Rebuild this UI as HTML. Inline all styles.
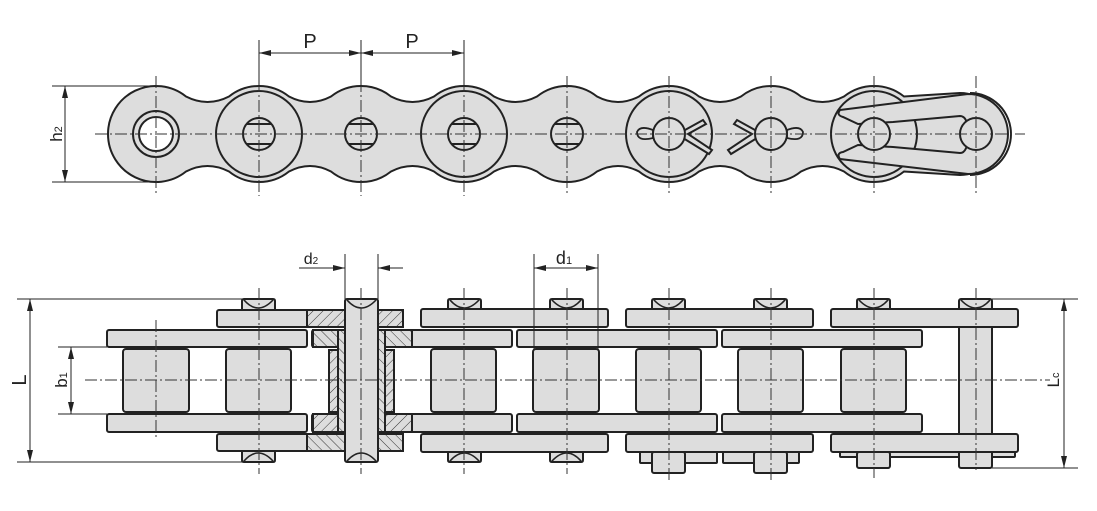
<!DOCTYPE html>
<html><head><meta charset="utf-8"><style>
html,body{margin:0;padding:0;background:#fff;}
svg{display:block;}
text{font-family:"Liberation Sans",sans-serif;fill:#222;}
</style></head><body>
<svg width="1097" height="511" viewBox="0 0 1097 511" xmlns="http://www.w3.org/2000/svg">
<defs>
<pattern id="h1" patternUnits="userSpaceOnUse" width="7" height="7" patternTransform="rotate(45)"><rect width="7" height="7" fill="#ddd"/><line x1="0" y1="0" x2="0" y2="7" stroke="#333" stroke-width="1"/></pattern>
<pattern id="h2" patternUnits="userSpaceOnUse" width="7" height="7" patternTransform="rotate(-45)"><rect width="7" height="7" fill="#ddd"/><line x1="0" y1="0" x2="0" y2="7" stroke="#333" stroke-width="1"/></pattern>
<marker id="ar" markerWidth="12" markerHeight="6" refX="12" refY="3" orient="auto" markerUnits="userSpaceOnUse"><path d="M0,0 L12,3 L0,6 Z" fill="#222"/></marker>
</defs>
<g stroke="#222" stroke-width="2" fill="#ddd">
<!-- TOP VIEW -->
<path d="M108,134 A48,48 0 0 1 186,96.5 Q207.5,107.5 229,96.5 A48,48 0 0 1 289,96.5 Q310,107.5 331,96.5 A48,48 0 0 1 391,96.5 Q412.5,107.5 434,96.5 A48,48 0 0 1 494,96.5 Q515.5,107.5 537,96.5 A48,48 0 0 1 597,96.5 Q618,107.5 639,96.5 A48,48 0 0 1 699,96.5 Q720,107.5 741,96.5 A48,48 0 0 1 801,96.5 Q822.5,107.5 844,96.5 A48,48 0 0 1 904,96.5 L960,93 A41,41 0 0 1 960,175 L904,171.5 A48,48 0 0 1 844,171.5 Q822.5,160.5 801,171.5 A48,48 0 0 1 741,171.5 Q720,160.5 699,171.5 A48,48 0 0 1 639,171.5 Q618,160.5 597,171.5 A48,48 0 0 1 537,171.5 Q515.5,160.5 494,171.5 A48,48 0 0 1 434,171.5 Q412.5,160.5 391,171.5 A48,48 0 0 1 331,171.5 Q310,160.5 289,171.5 A48,48 0 0 1 229,171.5 Q207.5,160.5 186,171.5 A48,48 0 0 1 108,134 Z"/>
<path d="M970,93 A41,41 0 0 1 970,175" fill="none"/>
<g fill="none">
<circle cx="259" cy="134" r="43"/><circle cx="464" cy="134" r="43"/><circle cx="669" cy="134" r="43"/><circle cx="874" cy="134" r="43"/>
</g>
<circle cx="156" cy="134" r="23"/><circle cx="156" cy="134" r="17" fill="#fff"/>
<circle cx="259" cy="134" r="16"/><circle cx="361" cy="134" r="16"/><circle cx="464" cy="134" r="16"/><circle cx="567" cy="134" r="16"/>
<g fill="none"><line x1="246" y1="124" x2="272" y2="124"/><line x1="246" y1="144" x2="272" y2="144"/>
<line x1="348" y1="124" x2="374" y2="124"/><line x1="348" y1="144" x2="374" y2="144"/>
<line x1="451" y1="124" x2="477" y2="124"/><line x1="451" y1="144" x2="477" y2="144"/>
<line x1="554" y1="124" x2="580" y2="124"/><line x1="554" y1="144" x2="580" y2="144"/></g>
<!-- cotters -->
<path d="M653,130 Q640,125 637,132 Q637,142 653,138 Z" stroke-width="1.8"/>
<path d="M685,130 L703,120 L706,124 L688,134 L712,150 L709,154 L683,138" fill="#ddd"/>
<circle cx="669" cy="134" r="16"/>
<path d="M787,130 Q800,125 803,132 Q803,142 787,138 Z" stroke-width="1.8"/>
<path d="M755,130 L737,120 L734,124 L752,134 L728,150 L731,154 L757,138" fill="#ddd"/>
<circle cx="771" cy="134" r="16"/>
<!-- spring clip -->
<path d="M840,110 L968,94 A40,40 0 0 1 968,174 L840,159 Q836,153 843,152 L858,145 L893,147 L960,153 Q968,153 968,134 Q968,116 960,116 L893,122 L858,124 L843,117 Q836,115 840,110 Z"/>
<circle cx="874" cy="134" r="16"/><circle cx="976" cy="134" r="16"/>
</g>
<!-- top center lines -->
<g stroke="#333" stroke-width="1" stroke-dasharray="12,3,2,3" fill="none">
<line x1="95" y1="134" x2="1025" y2="134"/>
<line x1="156" y1="76" x2="156" y2="196"/>
<line x1="259" y1="40" x2="259" y2="196"/><line x1="361" y1="40" x2="361" y2="196"/><line x1="464" y1="40" x2="464" y2="196"/>
<line x1="567" y1="76" x2="567" y2="196"/><line x1="669" y1="76" x2="669" y2="196"/><line x1="771" y1="76" x2="771" y2="196"/><line x1="874" y1="76" x2="874" y2="196"/><line x1="976" y1="76" x2="976" y2="196"/>
</g>
<!-- P dims -->
<g stroke="#222" stroke-width="1">
<line x1="259" y1="40" x2="259" y2="86"/><line x1="361" y1="40" x2="361" y2="86"/><line x1="464" y1="40" x2="464" y2="86"/>
<line x1="310" y1="53" x2="259" y2="53" marker-end="url(#ar)"/><line x1="310" y1="53" x2="361" y2="53" marker-end="url(#ar)"/>
<line x1="412" y1="53" x2="361" y2="53" marker-end="url(#ar)"/><line x1="412" y1="53" x2="464" y2="53" marker-end="url(#ar)"/>
<line x1="52" y1="86" x2="156" y2="86"/><line x1="52" y1="182" x2="156" y2="182"/>
<line x1="65" y1="134" x2="65" y2="86" marker-end="url(#ar)"/><line x1="65" y1="134" x2="65" y2="182" marker-end="url(#ar)"/>
</g>
<text x="310" y="48" font-size="20" text-anchor="middle">P</text>
<text x="412" y="48" font-size="20" text-anchor="middle">P</text>
<text transform="translate(62,134) rotate(-90)" font-size="17" text-anchor="middle">h<tspan font-size="11">2</tspan></text>

<!-- BOTTOM VIEW -->
<g stroke="#222" stroke-width="2" fill="#ddd">
<!-- pin heads top -->
<path d="M242,310 L242,301 Q242,299 244,299 L273,299 Q275,299 275,301 L275,310 Z"/>
<path d="M448,310 L448,301 Q448,299 450,299 L479,299 Q481,299 481,301 L481,310 Z"/>
<path d="M550,310 L550,301 Q550,299 552,299 L581,299 Q583,299 583,301 L583,310 Z"/>
<path d="M652,310 L652,301 Q652,299 654,299 L683,299 Q685,299 685,301 L685,310 Z"/>
<path d="M754,310 L754,301 Q754,299 756,299 L785,299 Q787,299 787,301 L787,310 Z"/>
<path d="M857,310 L857,301 Q857,299 859,299 L888,299 Q890,299 890,301 L890,310 Z"/>
<!-- pin heads bottom -->
<path d="M242,451 L242,460 Q242,462 244,462 L273,462 Q275,462 275,460 L275,451 Z"/>
<path d="M448,451 L448,460 Q448,462 450,462 L479,462 Q481,462 481,460 L481,451 Z"/>
<path d="M550,451 L550,460 Q550,462 552,462 L581,462 Q583,462 583,460 L583,451 Z"/>
<!-- bottom right extras -->
<rect x="640" y="452" width="77" height="11" rx="1"/><rect x="652" y="452" width="33" height="21" rx="2"/>
<rect x="723" y="452" width="76" height="11" rx="1"/><rect x="754" y="452" width="33" height="21" rx="2"/>
<rect x="840" y="450" width="175" height="7" rx="1"/>
<rect x="857" y="452" width="33" height="16" rx="2"/>
<!-- last pin -->
<rect x="959" y="299" width="33" height="169" rx="2"/>
<!-- outer plates -->
<rect x="217" y="310" width="186" height="17" rx="2"/><rect x="421" y="309" width="187" height="18" rx="2"/><rect x="626" y="309" width="187" height="18" rx="2"/><rect x="831" y="309" width="187" height="18" rx="2"/>
<rect x="217" y="434" width="186" height="17" rx="2"/><rect x="421" y="434" width="187" height="18" rx="2"/><rect x="626" y="434" width="187" height="18" rx="2"/><rect x="831" y="434" width="187" height="18" rx="2"/>
<!-- inner plates -->
<rect x="107" y="330" width="200" height="17" rx="2"/><rect x="312" y="330" width="200" height="17" rx="2"/><rect x="517" y="330" width="200" height="17" rx="2"/><rect x="722" y="330" width="200" height="17" rx="2"/>
<rect x="107" y="414" width="200" height="18" rx="2"/><rect x="312" y="414" width="200" height="18" rx="2"/><rect x="517" y="414" width="200" height="18" rx="2"/><rect x="722" y="414" width="200" height="18" rx="2"/>
<!-- rollers -->
<rect x="123" y="349" width="66" height="63" rx="3"/><rect x="226" y="349" width="65" height="63" rx="3"/>
<rect x="431" y="349" width="65" height="63" rx="3"/><rect x="533" y="349" width="66" height="63" rx="3"/>
<rect x="636" y="349" width="65" height="63" rx="3"/><rect x="738" y="349" width="65" height="63" rx="3"/><rect x="841" y="349" width="65" height="63" rx="3"/>
<!-- hatched section -->
<rect x="307" y="310" width="38" height="17" fill="url(#h1)"/><rect x="378" y="310" width="25" height="17" fill="url(#h1)"/>
<rect x="307" y="434" width="38" height="17" fill="url(#h2)"/><rect x="378" y="434" width="25" height="17" fill="url(#h2)"/>
<rect x="313" y="330" width="25" height="17" fill="url(#h2)"/><rect x="385" y="330" width="27" height="17" fill="url(#h2)"/>
<rect x="313" y="414" width="25" height="18" fill="url(#h1)"/><rect x="385" y="414" width="27" height="18" fill="url(#h1)"/>
<rect x="329" y="350" width="9" height="62" fill="url(#h1)"/><rect x="385" y="350" width="9" height="62" fill="url(#h1)"/>
<rect x="338" y="330" width="7" height="102" fill="url(#h2)"/><rect x="378" y="330" width="7" height="102" fill="url(#h2)"/>
<rect x="345" y="299" width="33" height="163" rx="2"/>
</g>
<g fill="none" stroke="#222" stroke-width="1.6">
<path d="M244,300 Q258,316 273,300"/><path d="M450,300 Q464,316 479,300"/><path d="M552,300 Q567,316 581,300"/><path d="M654,300 Q669,316 683,300"/><path d="M756,300 Q771,316 785,300"/><path d="M859,300 Q874,316 888,300"/><path d="M961,300 Q976,316 990,300"/>
<path d="M244,461 Q258,445 273,461"/><path d="M450,461 Q464,445 479,461"/><path d="M552,461 Q567,445 581,461"/>
<path d="M347,300 Q361,316 376,300"/><path d="M347,461 Q361,445 376,461"/>
</g>
<!-- bottom center lines -->
<g stroke="#333" stroke-width="1" stroke-dasharray="12,3,2,3" fill="none">
<line x1="85" y1="380" x2="1050" y2="380"/>
<line x1="156" y1="320" x2="156" y2="440"/>
<line x1="259" y1="288" x2="259" y2="474"/><line x1="361" y1="288" x2="361" y2="474"/><line x1="464" y1="288" x2="464" y2="474"/>
<line x1="567" y1="288" x2="567" y2="474"/><line x1="669" y1="288" x2="669" y2="482"/><line x1="771" y1="288" x2="771" y2="482"/><line x1="874" y1="288" x2="874" y2="478"/><line x1="976" y1="288" x2="976" y2="470"/>
</g>
<!-- dims bottom -->
<g stroke="#222" stroke-width="1">
<line x1="17" y1="299" x2="242" y2="299"/><line x1="17" y1="462" x2="242" y2="462"/>
<line x1="30" y1="380" x2="30" y2="299" marker-end="url(#ar)"/><line x1="30" y1="380" x2="30" y2="462" marker-end="url(#ar)"/>
<line x1="58" y1="347" x2="107" y2="347"/><line x1="58" y1="414" x2="107" y2="414"/>
<line x1="71" y1="380" x2="71" y2="347" marker-end="url(#ar)"/><line x1="71" y1="380" x2="71" y2="414" marker-end="url(#ar)"/>
<line x1="992" y1="299" x2="1078" y2="299"/><line x1="992" y1="468" x2="1078" y2="468"/>
<line x1="1064" y1="380" x2="1064" y2="299" marker-end="url(#ar)"/><line x1="1064" y1="380" x2="1064" y2="468" marker-end="url(#ar)"/>
<line x1="345" y1="254" x2="345" y2="299"/><line x1="378" y1="254" x2="378" y2="299"/>
<line x1="299" y1="268" x2="345" y2="268" marker-end="url(#ar)"/><line x1="403" y1="268" x2="378" y2="268" marker-end="url(#ar)"/>
<line x1="534" y1="254" x2="534" y2="350"/><line x1="598" y1="254" x2="598" y2="350"/>
<line x1="566" y1="268" x2="534" y2="268" marker-end="url(#ar)"/><line x1="566" y1="268" x2="598" y2="268" marker-end="url(#ar)"/>
</g>
<text x="311" y="264" font-size="16" text-anchor="middle">d<tspan font-size="10">2</tspan></text>
<text x="564" y="264" font-size="18" text-anchor="middle">d<tspan font-size="11">1</tspan></text>
<text transform="translate(26,380) rotate(-90)" font-size="20" text-anchor="middle">L</text>
<text transform="translate(67,380) rotate(-90)" font-size="17" text-anchor="middle">b<tspan font-size="11">1</tspan></text>
<text transform="translate(1059,380) rotate(-90)" font-size="17" text-anchor="middle">L<tspan font-size="11">c</tspan></text>
</svg>
</body></html>
